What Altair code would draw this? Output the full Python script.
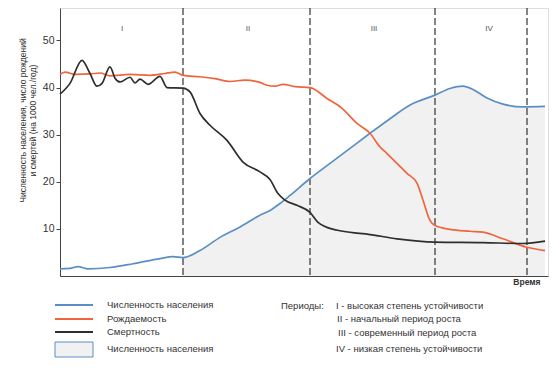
import altair as alt
import pandas as pd

# ---- data (time in arbitrary units, values per 1000 persons/year) ----
pop_t = [0, 10, 18, 28, 50, 73, 100, 113, 123, 140, 160, 180, 200, 210, 220, 230, 250, 270, 290, 310, 330, 350, 375, 390, 403, 413, 427, 443, 463, 485]
pop_v = [1.5, 1.6, 2.0, 1.5, 1.8, 2.6, 3.7, 4.1, 3.9, 5.4, 8.2, 10.4, 12.9, 13.9, 15.4, 17.1, 20.7, 23.9, 27.1, 30.3, 33.4, 36.3, 38.4, 39.8, 40.3, 39.6, 37.8, 36.5, 35.9, 36.0]

birth_t = [0, 5, 15, 30, 40, 50, 70, 90, 105, 115, 123, 140, 155, 170, 185, 200, 207, 215, 223, 235, 250, 267, 282, 297, 310, 320, 327, 337, 347, 357, 363, 370, 375, 390, 410, 423, 443, 467, 485]
birth_v = [42.8, 43.3, 42.8, 42.9, 43.1, 42.5, 42.8, 42.6, 43.0, 43.3, 42.6, 42.3, 41.9, 41.3, 41.6, 41.1, 40.5, 40.3, 40.7, 40.2, 40.0, 37.7, 35.6, 32.4, 30.3, 27.4, 26.0, 23.9, 21.8, 19.7, 16.1, 11.8, 10.7, 9.9, 9.5, 9.3, 7.9, 6.1, 5.4]

death_t = [0, 10, 22, 30, 37, 42, 50, 55, 60, 70, 75, 80, 88, 100, 107, 123, 130, 140, 150, 167, 183, 200, 210, 218, 225, 237, 250, 258, 265, 283, 310, 337, 375, 423, 463, 485]
death_v = [38.6, 40.9, 45.8, 43.0, 40.3, 40.9, 44.4, 42.0, 41.2, 42.2, 41.0, 41.8, 40.7, 42.4, 40.0, 39.9, 39.1, 34.5, 32.0, 28.8, 24.2, 22.1, 20.5, 17.5, 16.1, 15.0, 13.5, 11.4, 10.5, 9.5, 8.8, 7.9, 7.2, 7.1, 6.9, 7.4]

series_names = ["Численность населения", "Рождаемость", "Смертность"]
series_colors = ["#5b8fc4", "#f0653c", "#2e2e2e"]
fill_name = "Численность населения"
fill_color = "#f1f1f1"

boundaries = [123, 250, 375, 467]
period_names = ["I", "II", "III", "IV"]
period_label_t = [62, 188, 314, 429]
periods_head = "Периоды:"
period_desc = ["I - высокая степень устойчивости", "II - начальный период роста",
               "III - современный период роста", "IV - низкая степень устойчивости"]

FONT = "Liberation Sans"
TXT = "#333333"
one = pd.DataFrame({"k": [0]})

frames = []
for name, ts, vs in zip(series_names, [pop_t, birth_t, death_t], [pop_v, birth_v, death_v]):
    frames.append(pd.DataFrame({"t": ts, "v": vs, "series": name}))
lines_df = pd.concat(frames, ignore_index=True)

area_df = pd.DataFrame({"t": pop_t, "v": pop_v})
area_df = area_df[area_df["t"] >= boundaries[0]]

xscale = alt.Scale(domain=[0, 488], nice=False, zero=False)
yscale = alt.Scale(domain=[0, 56.9], nice=False)

xaxis = alt.Axis(ticks=False, labels=False, grid=False, domainColor="#444", domainWidth=1,
                 title="Время", titleAnchor="end", titleAlign="right", titleX=480, titleY=8,
                 titleBaseline="alphabetic", titleFont=FONT, titleFontSize=8.5,
                 titleFontWeight="bold", titleColor=TXT)
yaxis = alt.Axis(values=[10, 20, 30, 40, 50], tickSize=4, labelPadding=2, grid=False,
                 domainColor="#444", tickColor="#444", labelFont=FONT, labelFontSize=10.5,
                 labelColor=TXT,
                 title=["Численность населения, число рождений", "и смертей (на 1000 чел./год)"],
                 titleFont=FONT, titleFontSize=8.5, titleFontWeight="normal", titleColor=TXT,
                 titleAngle=270, titleX=-42, titleY=112, titleBaseline="top", titleLineHeight=10.5,
                 titleAlign="center")

area = alt.Chart(area_df).mark_area(interpolate="monotone", color=fill_color).encode(
    x=alt.X("t:Q", scale=xscale, axis=xaxis),
    y=alt.Y("v:Q", scale=yscale, axis=yaxis),
)

rules = alt.Chart(pd.DataFrame({"b": boundaries})).mark_rule(
    color="#333", strokeDash=[7, 3], strokeWidth=1.2
).encode(x=alt.X("b:Q", scale=xscale))

lines = alt.Chart(lines_df).mark_line(interpolate="monotone", strokeWidth=1.7).encode(
    x=alt.X("t:Q", scale=xscale),
    y=alt.Y("v:Q", scale=yscale),
    color=alt.Color("series:N", scale=alt.Scale(domain=series_names, range=series_colors),
                    legend=None),
    order=alt.Order("t:Q"),
)

plabels = alt.Chart(pd.DataFrame({"t": period_label_t, "p": period_names})).mark_text(
    font=FONT, fontSize=8, baseline="middle"
).encode(x=alt.X("t:Q", scale=xscale), y=alt.value(21), text="p:N", color=alt.value("#555"))

layers = [area, rules, lines, plabels]

# ---- hand-built legend (below the plot) ----
leg_rows_y = [297, 311, 324]
for name, col, yy in zip(series_names, series_colors, leg_rows_y):
    layers.append(alt.Chart(one).mark_rule(strokeWidth=2).encode(
        x=alt.value(-5), x2=alt.value(33), y=alt.value(yy), color=alt.value(col)))
    layers.append(alt.Chart(one).mark_text(font=FONT, fontSize=9.5, align="left", baseline="middle").encode(
        x=alt.value(47), y=alt.value(yy), text=alt.value(name), color=alt.value(TXT)))
layers.append(alt.Chart(one).mark_rect(stroke="#5b8fc4", strokeWidth=1).encode(
    x=alt.value(-5), x2=alt.value(33), y=alt.value(334), y2=alt.value(349), color=alt.value(fill_color)))
layers.append(alt.Chart(one).mark_text(font=FONT, fontSize=9.5, align="left", baseline="middle").encode(
    x=alt.value(47), y=alt.value(341), text=alt.value(fill_name), color=alt.value(TXT)))

layers.append(alt.Chart(one).mark_text(font=FONT, fontSize=9.5, align="left", baseline="middle").encode(
    x=alt.value(221), y=alt.value(298), text=alt.value(periods_head), color=alt.value(TXT)))
desc_x = [276, 277, 278, 276]
desc_y = [298, 311, 325, 341]
for s, xx, yy in zip(period_desc, desc_x, desc_y):
    layers.append(alt.Chart(one).mark_text(font=FONT, fontSize=9.5, align="left", baseline="middle").encode(
        x=alt.value(xx), y=alt.value(yy), text=alt.value(s), color=alt.value(TXT)))

chart = alt.layer(*layers).properties(
    width=488, height=268,
    autosize=alt.AutoSizeParams(type="none"),
    padding={"left": 52, "top": 0, "right": 1, "bottom": 92},
).configure_view(stroke=None).configure(background="white")

chart.save("out.html", embed_options={"renderer": "svg", "actions": False})
